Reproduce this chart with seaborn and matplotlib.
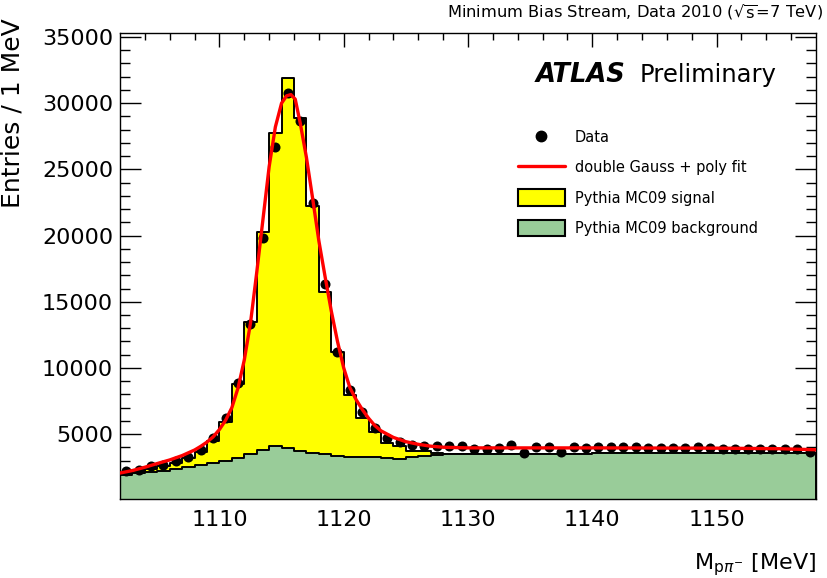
import matplotlib
matplotlib.use("Agg")
import matplotlib.pyplot as plt
import seaborn as sns
import numpy as np
from matplotlib.lines import Line2D
from matplotlib.patches import Patch

# DATA (1 MeV bins from 1102 to 1158)
bin_edges = list(range(1102, 1159))
bin_centers = [e + 0.5 for e in bin_edges[:-1]]

data_counts = [
    2180, 2310, 2560, 2690, 2940, 3310, 3820, 4690,         # 1102-1109
    6200, 8830, 13350, 19830, 26660, 30750, 28670, 22470,   # 1110-1117
    16320, 11220, 8330, 6700, 5440, 4690, 4440, 4190,       # 1118-1125
    4120, 4120, 4100, 4100, 3900, 3900, 3950, 4150,         # 1126-1133
    3550, 4050, 4050, 3650, 4050, 3950, 4000, 4050,         # 1134-1141
    4000, 4000, 3950, 3950, 3950, 3950, 4000, 3950,         # 1142-1149
    3850, 3900, 3900, 3850, 3900, 3850, 3900, 3650,         # 1150-1157
]

# MC signal + background (top of the stack)
mc_total = [
    2050, 2200, 2400, 2600, 2850, 3200, 3650, 4450,
    5900, 8800, 13450, 20300, 27750, 31900, 28900, 22250,
    15750, 11200, 7950, 6250, 5150, 4330, 4070, 3750,
    3700, 3600, 3480, 3500, 3500, 3500, 3510, 3510,
    3520, 3520, 3520, 3530, 3530, 3530, 3540, 3540,
    3540, 3550, 3550, 3550, 3550, 3560, 3560, 3560,
    3560, 3570, 3570, 3570, 3570, 3580, 3580, 3580,
]

# MC background only
mc_background = [
    1950, 2050, 2150, 2250, 2350, 2500, 2690, 2810,
    2990, 3190, 3510, 3820, 4070, 3940, 3740, 3610,
    3510, 3360, 3310, 3310, 3240, 3190, 3140, 3240,
    3360, 3450, 3480, 3500, 3500, 3500, 3510, 3510,
    3520, 3520, 3520, 3530, 3530, 3530, 3540, 3540,
    3540, 3550, 3550, 3550, 3550, 3560, 3560, 3560,
    3560, 3570, 3570, 3570, 3570, 3580, 3580, 3580,
]

# double Gauss + poly fit
fit_x = [1102.0, 1103.0, 1104.0, 1105.0, 1106.0, 1107.0, 1108.0, 1108.5,
         1109.0, 1109.5, 1110.0, 1110.5, 1111.0, 1111.5, 1112.0, 1112.5,
         1113.0, 1113.5, 1114.0, 1114.5, 1115.0, 1115.4, 1115.75, 1116.1,
         1116.5, 1117.0, 1117.5, 1118.0, 1118.5, 1119.0, 1119.5, 1120.0,
         1120.5, 1121.0, 1121.5, 1122.0, 1122.5, 1123.0, 1124.0, 1125.0,
         1126.0, 1127.0, 1128.0, 1130.0, 1135.0, 1140.0, 1145.0, 1150.0,
         1155.0, 1158.0]
fit_y = [2060, 2250, 2500, 2780, 3050, 3380, 3800, 4080,
         4400, 4800, 5350, 6050, 7000, 8500, 10600, 13400,
         17200, 21200, 25200, 28200, 30000, 30550, 30650, 30300,
         28500, 25900, 22800, 19600, 16900, 14300, 12000, 10000,
         8500, 7600, 6850, 6200, 5650, 5250, 4750, 4430,
         4230, 4090, 4010, 3960, 3960, 3960, 3950, 3940,
         3900, 3820]

assert len(data_counts) == len(mc_total) == len(mc_background) == len(bin_centers)
assert len(fit_x) == len(fit_y)

sns.set_theme(style="ticks")
plt.rcParams["font.family"] = ["DejaVu Sans"]
plt.rcParams["mathtext.fontset"] = "dejavusans"
plt.rcParams["text.color"] = "black"
plt.rcParams["axes.labelcolor"] = "black"
plt.rcParams["xtick.color"] = "black"
plt.rcParams["ytick.color"] = "black"

fig = plt.figure(figsize=(8.27, 5.78), dpi=100)
ax = fig.add_axes([120 / 827, 1 - 499 / 578, 696 / 827, 466 / 578])

# STACKED MC HISTOGRAMS
sns.histplot(x=bin_centers, weights=mc_total, bins=bin_edges, element="step",
             fill=True, facecolor="#ffff00", alpha=1, edgecolor="black",
             linewidth=1.4, ax=ax, zorder=1)
sns.histplot(x=bin_centers, weights=mc_background, bins=bin_edges, element="step",
             fill=True, facecolor="#99cc99", alpha=1, edgecolor="black",
             linewidth=1.4, ax=ax, zorder=2)

# DATA POINTS + FIT
sns.scatterplot(x=bin_centers, y=data_counts, color="black", s=52,
                linewidth=0, ax=ax, zorder=3)
sns.lineplot(x=fit_x, y=fit_y, color="#ff0000", linewidth=2.4, ax=ax, zorder=4)

# AXES
ax.set_xlim(1102, 1158)
ax.set_ylim(100, 35300)
ax.set_xticks([1110, 1120, 1130, 1140, 1150])
ax.set_xticks(np.arange(1104, 1158, 2), minor=True)
ax.set_yticks([5000, 10000, 15000, 20000, 25000, 30000, 35000])
ax.set_yticks(np.arange(1000, 35300, 1000), minor=True)
ax.tick_params(axis="both", which="both", direction="in", top=True, right=True,
               width=1.0, color="black", labelcolor="black")
ax.tick_params(axis="x", which="major", length=10, labelsize=16, pad=8)
ax.tick_params(axis="x", which="minor", length=5)
ax.tick_params(axis="y", which="major", length=15, labelsize=16, pad=5)
ax.tick_params(axis="y", which="minor", length=7)
for sp in ax.spines.values():
    sp.set_linewidth(1.0)
    sp.set_color("black")

ax.set_ylabel("Entries / 1 MeV", fontsize=18, color="black")
ax.yaxis.set_label_coords(-0.137, 0.828)
ax.set_xlabel(r"M$_{\mathregular{p}\pi^{-}}$ [MeV]", fontsize=16, ha="right",
              va="center", color="black")
ax.xaxis.set_label_coords(1.0, -0.140)

# TEXTS
fig.text(823 / 827, 1 - 12 / 578, r"Minimum Bias Stream, Data 2010 ($\sqrt{\mathregular{s}}$=7 TeV)",
         ha="right", va="center", fontsize=11.7)
fig.text(536 / 827, 1 - 82 / 578, "ATLAS", fontsize=18.5, fontweight="bold",
         style="italic", ha="left", va="baseline")
fig.text(777 / 827, 1 - 82 / 578, "Preliminary", fontsize=17.5,
         ha="right", va="baseline")

# LEGEND
handles = [
    Line2D([], [], marker="o", color="black", linestyle="none", markersize=7.5),
    Line2D([], [], color="#ff0000", linewidth=2.4),
    Patch(facecolor="#ffff00", edgecolor="black", linewidth=1.5),
    Patch(facecolor="#99cc99", edgecolor="black", linewidth=1.5),
]
labels = ["Data", "double Gauss + poly fit", "Pythia MC09 signal", "Pythia MC09 background"]
fig.legend(handles, labels, loc="upper left", bbox_to_anchor=(518 / 827, 1 - 129 / 578),
           bbox_transform=fig.transFigure, frameon=False, fontsize=10.5,
           handlelength=3.2, handleheight=1.35, handletextpad=0.7,
           labelspacing=0.95, borderpad=0, borderaxespad=0)

fig.savefig("out.png", dpi=100)
